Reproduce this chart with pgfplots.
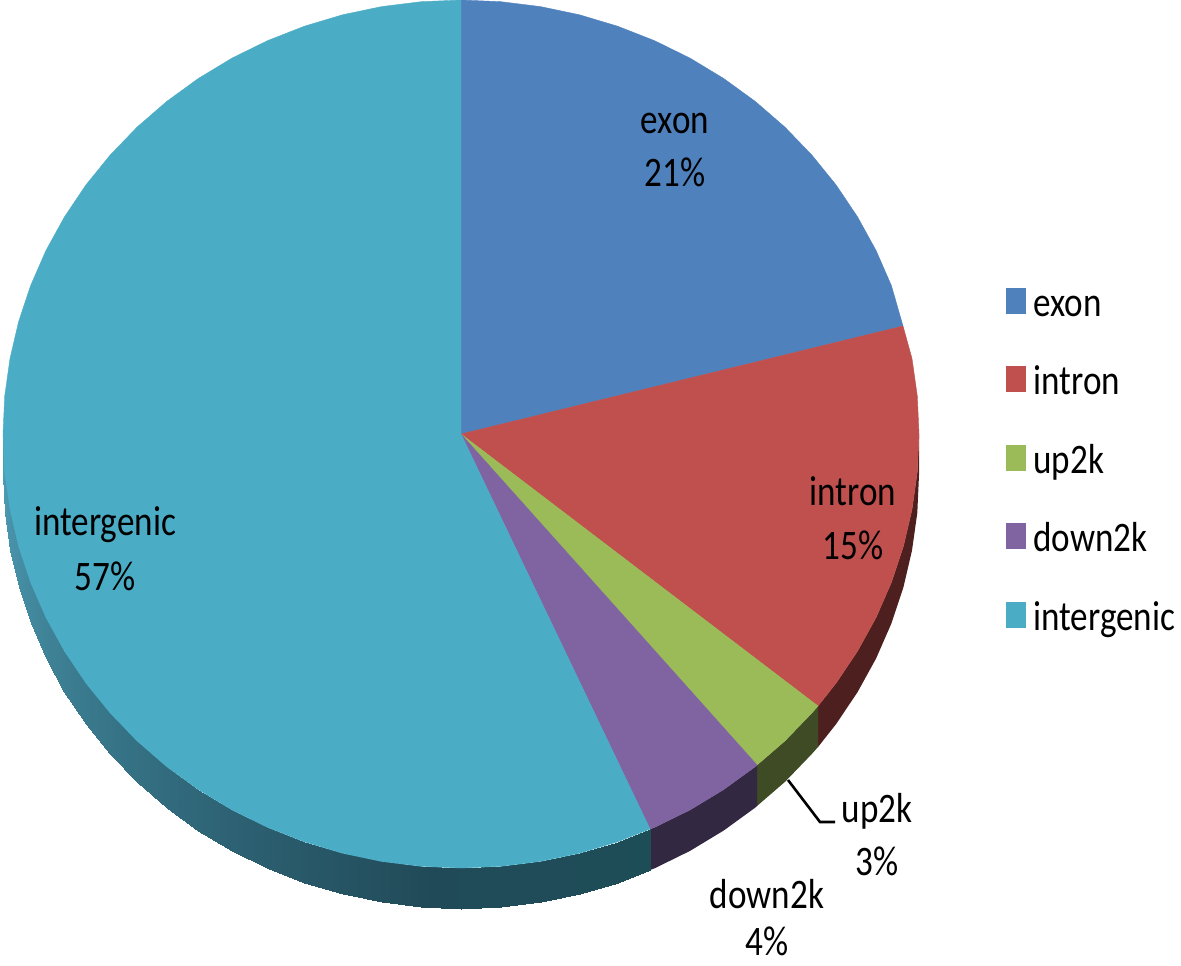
\documentclass[border=0pt]{standalone}
\usepackage{pgfplots}
\pgfplotsset{compat=1.18}
\usepackage{fontspec}
\setmainfont{Carlito}
\definecolor{exon}{RGB}{79,129,189}
\definecolor{intron}{RGB}{192,80,77}
\definecolor{uptwok}{RGB}{155,187,89}
\definecolor{downtwok}{RGB}{128,100,162}
\definecolor{intergenic}{RGB}{75,172,198}
\newcommand\lf{\fontsize{21}{25}\selectfont}
% the reference text is taller than it is wide
\newcommand\lb[1]{\scalebox{0.836}[1]{#1}}
\begin{document}
\begin{tikzpicture}
\useasboundingbox (0,0) rectangle (590.5pt,482.5pt);
\begin{axis}[
    at={(0,0)}, anchor=south west,
    width=590.5pt, height=482.5pt, scale only axis,
    xmin=0, xmax=1181, ymin=0, ymax=965,
    y dir=reverse,
    hide axis, clip=false,
    legend cell align=left,
    legend image code/.code={\fill[#1] (0pt,-3.5pt) rectangle (9.5pt,9pt); \path (13.5pt,0pt);},
    legend style={draw=none, fill=none, inner sep=0pt, outer sep=0pt,
        at={(axis cs:1006,286)}, anchor=north west,
        font=\lf, row sep=19.25pt,
        nodes={inner sep=0pt, text height=15pt, text depth=5pt}},
    colormap={side}{rgb255=(29,78,88) rgb255=(33,74,88) rgb255=(46,100,118) rgb255=(61,127,147) rgb255=(78,157,182)},
    point meta min=155, point meta max=270,
]
% rim of the pie
\addplot[fill=intron!40!black, draw=none, forget plot] coordinates {
    (919,434) (917.3,471.8) (912,509.4) (903.4,546.3) (891.4,582.4) (876.1,617.4)
    (857.6,651) (836.2,682.9) (818,706) (818,747) (836.2,723.9) (857.6,692)
    (876.1,658.4) (891.4,623.4) (903.4,587.3) (912,550.4) (917.3,512.8) (919,475)};
\addplot[fill=uptwok!40!black, draw=none, forget plot] coordinates {
    (818,706) (811.8,713) (784.9,740.9) (757,765) (757,806) (784.9,781.9) (811.8,754) (818,747)};
\addplot[fill=downtwok!40!black, draw=none, forget plot] coordinates {
    (757,765) (755.4,766.5) (723.7,789.5) (690,809.9) (654.6,827.3) (650,829)
    (650,870) (654.6,868.3) (690,850.9) (723.7,830.5) (755.4,807.5) (757,806)};
\addplot[surf, shader=interp, mesh/cols=2, point meta=explicit, forget plot]
    table[x=x, y=y, meta=c] {
x y c
650 829 155.6
650 870 155.6
617.6 841.8 160
617.6 882.8 160
579.5 853.2 165
579.5 894.2 165
540.5 861.4 170
540.5 902.4 170
500.9 866.3 175
500.9 907.3 175
461 868 180
461 909 180
421.1 866.3 185
421.1 907.3 185
381.5 861.4 190
381.5 902.4 190
342.5 853.2 195
342.5 894.2 195
304.4 841.8 200
304.4 882.8 200
267.4 827.3 205
267.4 868.3 205
232 809.9 210
232 850.9 210
198.3 789.5 215
198.3 830.5 215
166.6 766.5 220
166.6 807.5 220
137.1 740.9 225
137.1 781.9 225
110.2 713 230
110.2 754 230
85.8 682.9 235
85.8 723.9 235
64.4 651 240
64.4 692 240
45.9 617.4 245
45.9 658.4 245
30.6 582.4 250
30.6 623.4 250
18.6 546.3 255
18.6 587.3 255
10 509.4 260
10 550.4 260
4.7 471.8 265
4.7 512.8 265
3 434 270
3 475 270
};
% slices
\addplot[fill=exon, draw=exon, line width=0.2pt] coordinates {
    (461,434) (461,0) (500.9,1.7) (540.5,6.6) (579.5,14.8) (617.6,26.2) (654.6,40.7)
    (690,58.1) (723.7,78.5) (755.4,101.5) (784.9,127.1) (811.8,155) (836.2,185.1)
    (857.6,217) (876.1,250.6) (891.4,285.6) (903,326)} -- cycle;
\addlegendentry{\lb{exon}}
\addplot[fill=intron, draw=intron, line width=0.2pt] coordinates {
    (461,434) (903,326) (912,358.6) (917.3,396.2) (919,434) (917.3,471.8) (912,509.4)
    (903.4,546.3) (891.4,582.4) (876.1,617.4) (857.6,651) (836.2,682.9) (818,706)} -- cycle;
\addlegendentry{\lb{intron}}
\addplot[fill=uptwok, draw=uptwok, line width=0.2pt] coordinates {
    (461,434) (818,706) (811.8,713) (784.9,740.9) (757,765)} -- cycle;
\addlegendentry{\lb{up2k}}
\addplot[fill=downtwok, draw=downtwok, line width=0.2pt] coordinates {
    (461,434) (757,765) (755.4,766.5) (723.7,789.5) (690,809.9) (654.6,827.3) (650,829)} -- cycle;
\addlegendentry{\lb{down2k}}
\addplot[fill=intergenic, draw=intergenic, line width=0.2pt] coordinates {
    (461,434) (650,829) (617.6,841.8) (579.5,853.2) (540.5,861.4) (500.9,866.3) (461,868)
    (421.1,866.3) (381.5,861.4) (342.5,853.2) (304.4,841.8) (267.4,827.3) (232,809.9)
    (198.3,789.5) (166.6,766.5) (137.1,740.9) (110.2,713) (85.8,682.9) (64.4,651)
    (45.9,617.4) (30.6,582.4) (18.6,546.3) (10,509.4) (4.7,471.8) (3,434) (4.7,396.2)
    (10,358.6) (18.6,321.7) (30.6,285.6) (45.9,250.6) (64.4,217) (85.8,185.1) (110.2,155)
    (137.1,127.1) (166.6,101.5) (198.3,78.5) (232,58.1) (267.4,40.7) (304.4,26.2)
    (342.5,14.8) (381.5,6.6) (421.1,1.7) (461,0)} -- cycle;
\addlegendentry{\lb{intergenic}}
% leader line for up2k
\addplot[black, line width=1.3pt, forget plot] coordinates {(788,780) (820,822) (835,822)};
% data labels
\tikzset{lab/.style={anchor=base, font=\lf, inner sep=0pt}}
\node[lab] at (axis cs:675,133) {\lb{exon}};
\node[lab] at (axis cs:675,186) {\lb{21\%}};
\node[lab] at (axis cs:853,505) {\lb{intron}};
\node[lab] at (axis cs:853,559) {\lb{15\%}};
\node[lab] at (axis cs:877,822) {\lb{up2k}};
\node[lab] at (axis cs:877,875) {\lb{3\%}};
\node[lab] at (axis cs:767,908) {\lb{down2k}};
\node[lab] at (axis cs:767,955) {\lb{4\%}};
\node[lab] at (axis cs:105,535) {\lb{intergenic}};
\node[lab] at (axis cs:105,590) {\lb{57\%}};
\end{axis}
\end{tikzpicture}
\end{document}
